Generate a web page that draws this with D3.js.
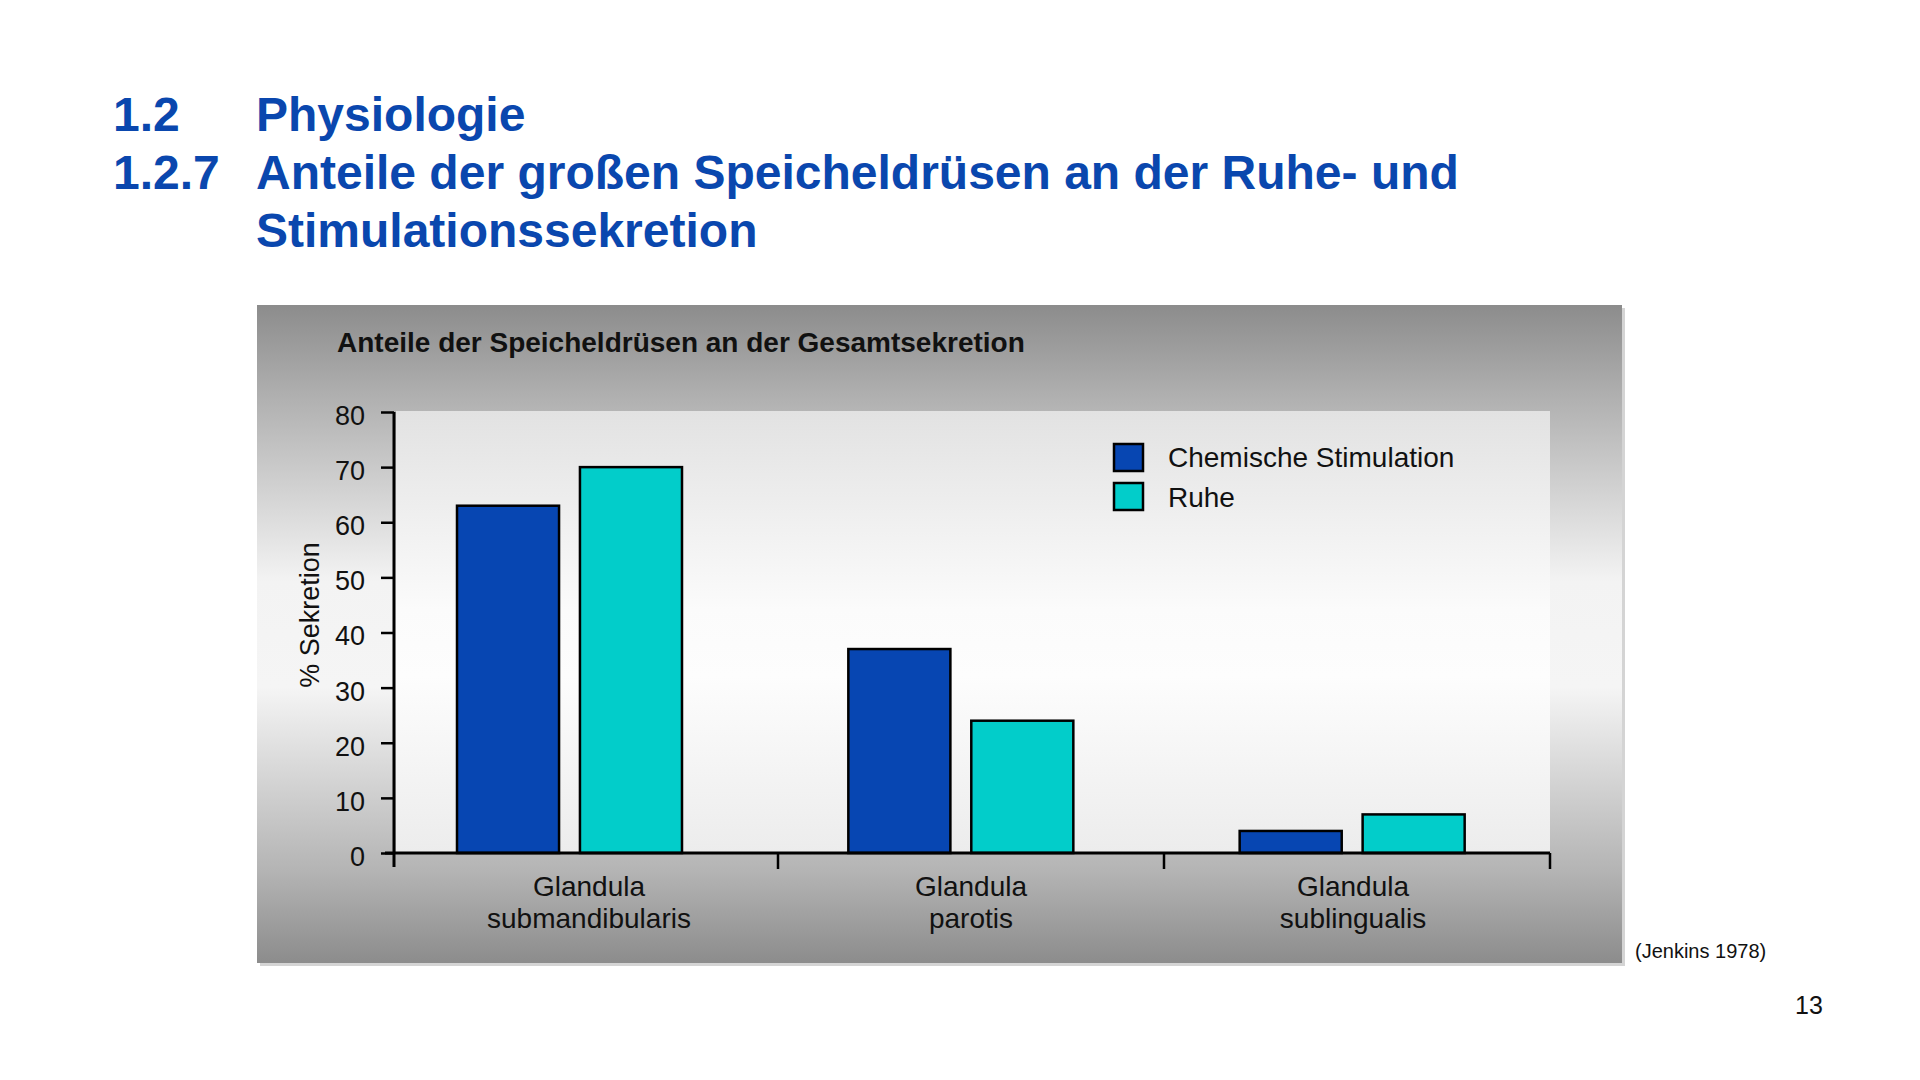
<!DOCTYPE html>
<html>
<head>
<meta charset="utf-8">
<script src="https://cdn.jsdelivr.net/npm/d3@7"></script>
<style>
  html, body { margin: 0; padding: 0; background: #ffffff; }
  svg { display: block; }
  text { font-family: "Liberation Sans", Arial, sans-serif; }
</style>
</head>
<body>
<svg id="chart" width="1920" height="1080"></svg>
<script>
// ---- data ----
const categories = [
  ["Glandula", "submandibularis"],
  ["Glandula", "parotis"],
  ["Glandula", "sublingualis"]
];
const seriesNames = ["Chemische Stimulation", "Ruhe"];
const stimulation = [63, 37, 4];
const rest = [70, 24, 7];
const yTicks = [0, 10, 20, 30, 40, 50, 60, 70, 80];
const headingNumbers = ["1.2", "1.2.7", ""];
const headingLines = ["Physiologie", "Anteile der großen Speicheldrüsen an der Ruhe- und", "Stimulationssekretion"];
const chartTitle = "Anteile der Speicheldrüsen an der Gesamtsekretion";
const yLabel = "% Sekretion";
const sourceText = "(Jenkins 1978)";
const pageNumber = "13";

// ---- layout ----
const svg = d3.select("#chart");
const blue = "#0746b2";
const cyan = "#02cdca";
const colors = [blue, cyan];
const seriesValues = [stimulation, rest];

const defs = svg.append("defs");
const g1 = defs.append("linearGradient").attr("id", "panelGrad").attr("x1", 0).attr("y1", 0).attr("x2", 0).attr("y2", 1);
[[0, "#8c8c8c"], [0.14, "#b0b0b0"], [0.42, "#f3f3f3"], [0.58, "#f5f5f5"], [0.86, "#b4b4b4"], [1, "#8c8c8c"]]
  .forEach(([o, c]) => g1.append("stop").attr("offset", o).attr("stop-color", c));
const g2 = defs.append("linearGradient").attr("id", "plotGrad").attr("x1", 0).attr("y1", 0).attr("x2", 0).attr("y2", 1);
[[0, "#e2e2e2"], [0.45, "#fbfbfb"], [0.6, "#fdfdfd"], [1, "#ececec"]]
  .forEach(([o, c]) => g2.append("stop").attr("offset", o).attr("stop-color", c));

// heading
const heading = svg.append("g").attr("fill", "#0a47ae").style("font-weight", "bold").style("font-size", "48px");
headingLines.forEach((t, i) => {
  const yb = 131 + i * 58;
  heading.append("text").attr("x", 113).attr("y", yb).text(headingNumbers[i]);
  heading.append("text").attr("x", 256).attr("y", yb).text(t);
});

// panel
const panel = { x: 257, y: 305, w: 1365, h: 658 };
svg.append("rect").attr("x", panel.x + 3).attr("y", panel.y + 3).attr("width", panel.w).attr("height", panel.h).attr("fill", "#d4d4d4");
svg.append("rect").attr("x", panel.x).attr("y", panel.y).attr("width", panel.w).attr("height", panel.h).attr("fill", "url(#panelGrad)");

// scales
const xAxisScale = d3.scaleBand().domain(d3.range(categories.length)).range([392, 1550]).paddingInner(0).paddingOuter(0);
const xBars = d3.scaleBand().domain(d3.range(categories.length)).range([388, 1562]).paddingInner(0).paddingOuter(0);
const x1 = d3.scaleBand().domain(seriesNames).range([69, 294]).paddingInner(0.17).paddingOuter(0);
const xLabel = d3.scalePoint().domain(d3.range(categories.length)).range([589, 1353]);
const y = d3.scaleLinear().domain([0, 80]).range([853, 412]);

// plot area
svg.append("rect").attr("x", 396).attr("y", y(80) - 1).attr("width", 1550 - 396).attr("height", y(0) - y(80) + 1).attr("fill", "url(#plotGrad)");

// chart title
svg.append("text").attr("x", 337).attr("y", 352).style("font-weight", "bold").style("font-size", "28px").attr("fill", "#111").text(chartTitle);

// bars
const groups = svg.append("g").selectAll("g").data(categories).join("g")
  .attr("transform", (d, i) => `translate(${xBars(i)},0)`);
groups.selectAll("rect").data((d, i) => seriesNames.map((s, k) => ({ s, k, v: seriesValues[k][i] })))
  .join("rect")
  .attr("x", d => x1(d.s))
  .attr("y", d => y(d.v))
  .attr("width", x1.bandwidth())
  .attr("height", d => y(0) - y(d.v))
  .attr("fill", d => colors[d.k])
  .attr("stroke", "#000")
  .attr("stroke-width", 2.5);

// y axis
const yAxis = svg.append("g").attr("transform", "translate(394,0)")
  .call(d3.axisLeft(y).tickValues(yTicks).tickSize(13).tickPadding(16).tickSizeOuter(0));
yAxis.select(".domain").remove();
yAxis.append("line").attr("x1", 0).attr("x2", 0).attr("y1", y(80)).attr("y2", y(0) + 14).attr("stroke", "#000").attr("stroke-width", 3);
yAxis.selectAll(".tick line").attr("stroke", "#000").attr("stroke-width", 2.5);
yAxis.selectAll(".tick text").attr("fill", "#111").attr("dy", "0.46em")
  .style("font-size", "27px").style("font-family", "Liberation Sans, Arial, sans-serif");

// x axis
const xAxisG = svg.append("g");
xAxisG.append("line").attr("x1", 385).attr("x2", 1550).attr("y1", y(0)).attr("y2", y(0)).attr("stroke", "#000").attr("stroke-width", 3);
const bounds = d3.range(categories.length + 1).map(i => i < categories.length ? xAxisScale(i) : xAxisScale(categories.length - 1) + xAxisScale.bandwidth());
xAxisG.selectAll("line.tk").data(bounds.slice(1)).join("line").attr("class", "tk")
  .attr("x1", d => d).attr("x2", d => d).attr("y1", y(0)).attr("y2", y(0) + 16)
  .attr("stroke", "#000").attr("stroke-width", 2.5);
const labels = xAxisG.selectAll("text").data(categories).join("text")
  .attr("x", (d, i) => xLabel(i))
  .attr("text-anchor", "middle").style("font-size", "28px").attr("fill", "#111");
labels.selectAll("tspan").data(d => d).join("tspan")
  .attr("x", function () { return d3.select(this.parentNode).attr("x"); })
  .attr("y", (d, j) => 896 + j * 32)
  .text(d => d);

// y label
svg.append("text").attr("transform", "translate(319,615) rotate(-90)").attr("text-anchor", "middle")
  .style("font-size", "27px").attr("fill", "#111").text(yLabel);

// legend
const legend = svg.append("g");
seriesNames.forEach((s, k) => {
  legend.append("rect").attr("x", 1114).attr("y", 444 + k * 39).attr("width", 29).attr("height", 27)
    .attr("fill", colors[k]).attr("stroke", "#000").attr("stroke-width", 2.5);
  legend.append("text").attr("x", 1168).attr("y", 467 + k * 40).style("font-size", "28px").attr("fill", "#111").text(s);
});

// source & page number
svg.append("text").attr("x", 1635).attr("y", 958).style("font-size", "20px").attr("fill", "#111").text(sourceText);
svg.append("text").attr("x", 1795).attr("y", 1014).style("font-size", "25px").attr("fill", "#111").text(pageNumber);
</script>
</body>
</html>
